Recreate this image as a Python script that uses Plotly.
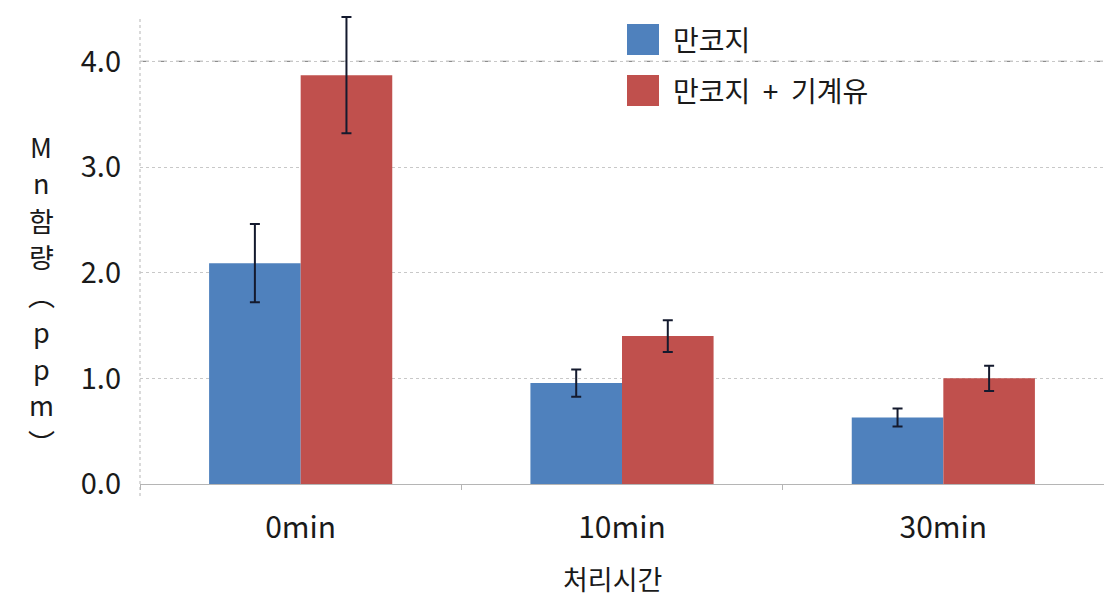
import plotly.graph_objects as go

categories = ["0min", "10min", "30min"]
series_names = ["만코지", "만코지 + 기계유"]
series_colors = ["#4f81bd", "#c0504d"]
vals_mankoji = [2.09, 0.955, 0.63]
err_mankoji = [0.37, 0.13, 0.085]
vals_mixed = [3.87, 1.40, 1.00]
err_mixed = [0.55, 0.15, 0.12]
y_ticks = [0.0, 1.0, 2.0, 3.0, 4.0]
y_tick_labels = ["0.0", "1.0", "2.0", "3.0", "4.0"]
y_title_chars = ["M", "n", "함", "량", "︵", "p", "p", "m", "︶"]
x_title = "처리시간"

FONT = "Noto Sans CJK KR, Noto Sans, sans-serif"
OFF = 8  # page body margin
W, H = 1112 - OFF, 611 - OFF
ML, MR, MT, MB = 132, 8, 8, 127
PW, PH = W - ML - MR, H - MT - MB

def px_x(px):  # px given in page (reference) pixels
    return (px - OFF - ML) / PW

def px_y(py):
    return (H - MB - (py - OFF)) / PH

fig = go.Figure()
for name, color, vals, errs in [
    (series_names[0], series_colors[0], vals_mankoji, err_mankoji),
    (series_names[1], series_colors[1], vals_mixed, err_mixed),
]:
    fig.add_trace(go.Bar(
        x=categories, y=vals, name=name,
        marker=dict(color=color, line=dict(width=0)),
        error_y=dict(type="data", array=errs, visible=True,
                     color="#141a2e", thickness=2, width=5),
        showlegend=False,
    ))

shapes = []
annotations = []

# top gridline darker dashed
shapes.append(dict(type="line", xref="paper", yref="y",
                   x0=0, x1=1, y0=y_ticks[-1], y1=y_ticks[-1],
                   line=dict(color="#8c8c8c", width=1.3, dash="dash"), layer="below"))
# y axis line (dotted, extends slightly below zero)
shapes.append(dict(type="line", xref="paper", yref="paper",
                   x0=0, x1=0, y0=px_y(496), y1=1,
                   line=dict(color="#b5b5b5", width=1, dash="dot"), layer="below"))

# legend (manual, large squares)
leg_rows = [(24, 55, 39), (75, 106, 90)]
for (t, b, c), name, color in zip(leg_rows, series_names, series_colors):
    shapes.append(dict(type="rect", xref="paper", yref="paper",
                       x0=px_x(627), x1=px_x(659), y0=px_y(b), y1=px_y(t),
                       fillcolor=color, line=dict(width=0)))
    annotations.append(dict(xref="paper", yref="paper", x=px_x(671), y=px_y(c),
                            text=name.replace(" ", "  "), showarrow=False,
                            xanchor="left", yanchor="middle",
                            font=dict(family=FONT, size=28, color="#1a1a1a")))

# y title stacked characters
for i, ch in enumerate(y_title_chars):
    annotations.append(dict(xref="paper", yref="paper", x=px_x(41), y=px_y(146 + 37 * i),
                            text=ch, showarrow=False, xanchor="center", yanchor="middle",
                            font=dict(family=FONT, size=27, color="#1a1a1a")))

# x title
annotations.append(dict(xref="paper", yref="paper", x=px_x(612), y=px_y(578),
                        text=x_title, showarrow=False, xanchor="center", yanchor="middle",
                        font=dict(family=FONT, size=27, color="#1a1a1a")))

fig.update_layout(
    width=W, height=H,
    margin=dict(l=ML, r=MR, t=MT, b=MB),
    paper_bgcolor="white", plot_bgcolor="white",
    barmode="group", bargap=0.43, bargroupgap=0,
    shapes=shapes, annotations=annotations,
    font=dict(family=FONT, color="#1a1a1a"),
)
fig.update_xaxes(
    type="category",
    showline=True, linecolor="#b5b5b5", linewidth=1,
    ticks="outside", tickson="boundaries", ticklen=5, tickcolor="#b5b5b5",
    tickfont=dict(family=FONT, size=30, color="#1a1a1a"),
    ticklabelstandoff=17,
    showgrid=False,
)
fig.update_yaxes(
    range=[0, 4.43],
    tickvals=y_ticks, ticktext=y_tick_labels,
    tickfont=dict(family=FONT, size=29, color="#1a1a1a"),
    ticklabelstandoff=18,
    showgrid=True, gridcolor="#c8c8c8", gridwidth=1, griddash="dot",
    zeroline=False, showline=False, ticks="",
)

fig.write_html("out.html")
